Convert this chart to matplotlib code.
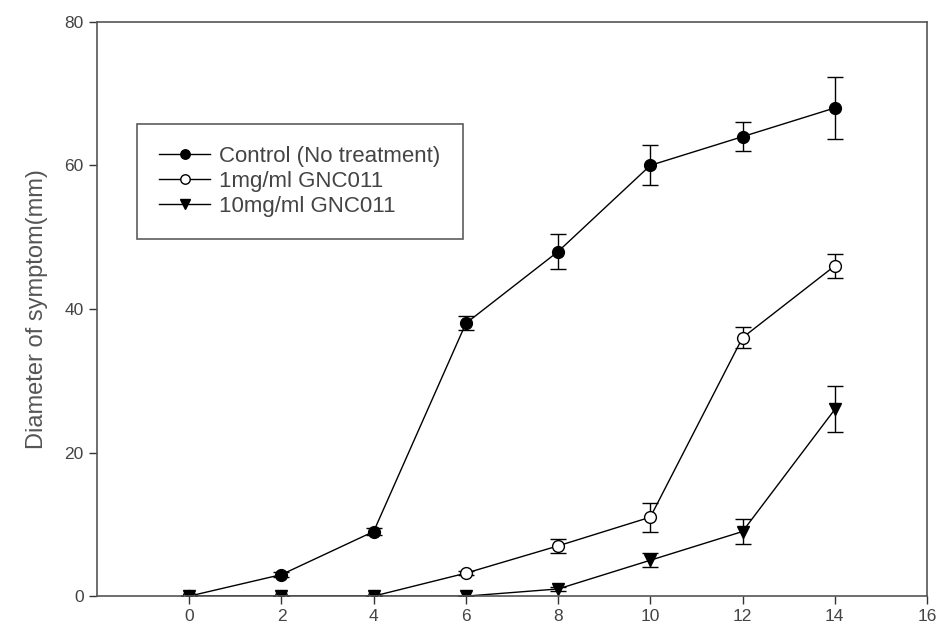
import matplotlib
matplotlib.use("Agg")
import matplotlib.pyplot as plt

plt.rcParams['font.family'] = ['Liberation Sans', 'DejaVu Sans']

days = [0, 2, 4, 6, 8, 10, 12, 14]
control = [0, 3, 9, 38, 48, 60, 64, 68]
control_err = [0, 0.4, 0.5, 1.0, 2.5, 2.8, 2.0, 4.3]
low = [0, 0, 0, 3.2, 7, 11, 36, 46]
low_err = [0, 0, 0, 0.3, 1.0, 2.0, 1.5, 1.7]
high = [0, 0, 0, 0, 1, 5, 9, 26]
high_err = [0, 0, 0, 0, 0.3, 1.0, 1.8, 3.2]

labels = ["Control (No treatment)", "1mg/ml GNC011", "10mg/ml GNC011"]
xticks = [0, 2, 4, 6, 8, 10, 12, 14, 16]
yticks = [0, 20, 40, 60, 80]

fig = plt.figure(figsize=(9.41, 6.41), dpi=100)
ax = fig.add_axes([0.1031, 0.070, 0.882, 0.896])

common = dict(color='black', lw=1.0, capsize=6, elinewidth=1.0, capthick=1.0, markersize=8.5)
c1 = ax.errorbar(days, control, yerr=control_err, marker='o', mfc='black', mec='black',
                 label=labels[0], **common)
c2 = ax.errorbar(days, low, yerr=low_err, marker='o', mfc='white', mec='black',
                 label=labels[1], **common)
c3 = ax.errorbar(days, high, yerr=high_err, marker='v', mfc='black', mec='black',
                 label=labels[2], **common)

ax.set_xlim(-2, 16)
ax.set_ylim(0, 80)
ax.set_xticks(xticks)
ax.set_yticks(yticks)
ax.tick_params(direction='out', length=6, width=1, labelsize=12.5, colors='#333333',
               labelcolor='#444444')
for s in ax.spines.values():
    s.set_color('#555555')
    s.set_linewidth(1.2)
ax.set_ylabel("Diameter of symptom(mm)", fontsize=17, color='#555555', labelpad=12)

leg = ax.legend(handles=[c1[0], c2[0], c3[0]], labels=labels,
                loc='upper left', bbox_to_anchor=(0.048, 0.822), borderaxespad=0,
                fontsize=16, frameon=True, fancybox=False, handlelength=2.3,
                labelspacing=0.18, borderpad=1.0, handletextpad=0.4, markerscale=0.8)
leg.get_frame().set_edgecolor('#333333')
leg.get_frame().set_linewidth(1.2)
for t in leg.get_texts():
    t.set_color('#444444')

fig.savefig("out.png", dpi=100)
